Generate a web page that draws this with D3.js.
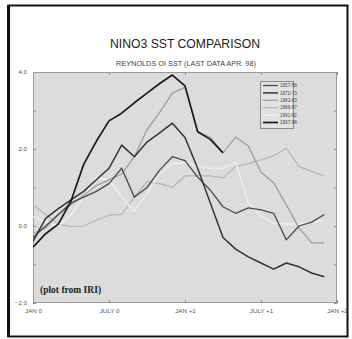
<!DOCTYPE html>
<html>
<head>
<meta charset="utf-8">
<script src="https://cdn.jsdelivr.net/npm/d3@7"></script>
<style>
  html, body { margin: 0; padding: 0; background: #fff; }
  svg { display: block; }
</style>
</head>
<body>
<svg id="chart" width="352" height="339"></svg>
<script>
// Monthly NINO3 SST anomalies (deg C), Jan of year 0 through Dec of year +1
const months = d3.range(24);
const years = ["1957-58", "1972-73", "1982-83", "1986-87", "1991-92", "1997-98"];

const s1957 = [-0.3, 0.0, 0.3, 0.6, 0.75, 0.9, 1.1, 1.5, 0.75, 1.0, 1.45, 1.8,
               1.7, 1.27, 0.93, 0.5, 0.33, 0.47, 0.42, 0.33, -0.36, 0.0, 0.1, 0.3];
const s1972 = [-0.4, 0.2, 0.45, 0.68, 0.9, 1.2, 1.5, 2.1, 1.8, 2.18, 2.42, 2.67,
               2.3, 1.5, 0.6, -0.3, -0.6, -0.8, -0.96, -1.12, -0.96, -1.06, -1.22, -1.32];
const s1982 = [-0.2, -0.05, 0.3, 0.55, 0.8, 1.05, 1.2, 1.35, 1.8, 2.5, 2.95, 3.45,
               3.6, 2.45, 2.3, 1.9, 2.31, 2.08, 1.4, 1.12, 0.55, -0.05, -0.44, -0.44];
const s1986 = [0.55, 0.3, 0.05, -0.02, 0.0, 0.15, 0.28, 0.3, 0.75, 1.15, 1.1, 1.0,
               1.3, 1.3, 1.3, 1.25, 1.55, 1.62, 1.72, 1.82, 2.02, 1.55, 1.42, 1.3];
const s1991 = [0.25, 0.1, 0.0, 0.3, 0.75, 1.25, 1.2, 0.75, 0.38, 0.85, 1.35, 1.62,
               1.65, 1.55, 1.5, 1.5, 1.65, 0.6, 0.25, 0.08, 0.05, 0.05, 0.1, 0.15];
const s1997 = [-0.55, -0.2, 0.05, 0.65, 1.6, 2.2, 2.73, 2.93, 3.2, 3.45, 3.7, 3.92,
               3.64, 2.45, 2.25, 1.9];

const seriesValues = [s1957, s1972, s1982, s1986, s1991, s1997];
const lineColors = ["#4a4a4a", "#333333", "#9e9e9e", "#b4b4b4", "#f2f2f2", "#1a1a1a"];
const lineWidths = [1.3, 1.5, 1.3, 1.2, 1.2, 1.7];

const xTickMonths = [0, 6, 12, 18, 24];
const xTickLabels = ["JAN 0", "JULY 0", "JAN +1", "JULY +1", "JAN +2"];
const yTickValues = [-2, -1, 0, 1, 2, 3, 4];
const yLabelValues = [-2, 0, 2, 4];

const svg = d3.select("#chart");

// outer frame
svg.append("rect").attr("x", 8.5).attr("y", 5.5).attr("width", 339).attr("height", 331)
  .attr("fill", "#fff").attr("stroke", "#111").attr("stroke-width", 2);
svg.append("line").attr("x1", 8.5).attr("x2", 8.5).attr("y1", 5).attr("y2", 337)
  .attr("stroke", "#111").attr("stroke-width", 3);

const plot = { left: 33, right: 337, top: 72, bottom: 303 };
const x = d3.scaleLinear().domain([0, 24]).range([plot.left, plot.right]);
const y = d3.scaleLinear().domain([-2, 4]).range([plot.bottom, plot.top]);

// titles
svg.append("text").attr("x", 185).attr("y", 48).attr("text-anchor", "middle")
  .attr("font-family", "Liberation Sans, Arial, sans-serif").attr("font-size", 12.2)
  .attr("fill", "#222").text("NINO3 SST COMPARISON");
svg.append("text").attr("x", 186).attr("y", 66).attr("text-anchor", "middle")
  .attr("font-family", "Liberation Sans, Arial, sans-serif").attr("font-size", 7.3)
  .attr("fill", "#444").text("REYNOLDS OI SST (LAST DATA APR. 98)");

// plot background
svg.append("rect").attr("x", plot.left).attr("y", plot.top)
  .attr("width", plot.right - plot.left).attr("height", plot.bottom - plot.top)
  .attr("fill", "#dcdcdc");

svg.append("clipPath").attr("id", "pclip").append("rect")
  .attr("x", plot.left).attr("y", plot.top)
  .attr("width", plot.right - plot.left).attr("height", plot.bottom - plot.top);

// axes with inward ticks on all sides
const tickColor = "#8a8a8a";
function styleAxis(g) {
  g.select(".domain").remove();
  g.selectAll(".tick line").attr("stroke", tickColor);
  g.selectAll(".tick text").attr("fill", "#555")
    .attr("font-family", "Liberation Sans, Arial, sans-serif").attr("font-size", 6.2);
}
const fmt = d3.format(".1f");

svg.append("g").attr("transform", `translate(${plot.left},0)`)
  .call(d3.axisLeft(y).tickValues(yTickValues).tickSizeInner(-3).tickSizeOuter(0)
    .tickPadding(6).tickFormat(d => yLabelValues.includes(d) ? fmt(d) : ""))
  .call(styleAxis);
svg.append("g").attr("transform", `translate(${plot.right},0)`)
  .call(d3.axisRight(y).tickValues(yTickValues).tickSizeInner(-3).tickSizeOuter(0)
    .tickFormat(""))
  .call(styleAxis);
svg.append("g").attr("transform", `translate(0,${plot.bottom})`)
  .call(d3.axisBottom(x).tickValues(xTickMonths).tickSizeInner(-3).tickSizeOuter(0)
    .tickPadding(6).tickFormat((d, i) => xTickLabels[i]))
  .call(styleAxis);
svg.append("g").attr("transform", `translate(0,${plot.top})`)
  .call(d3.axisTop(x).tickValues(xTickMonths).tickSizeInner(-3).tickSizeOuter(0)
    .tickFormat(""))
  .call(styleAxis);

// plot border
svg.append("rect").attr("x", plot.left + 0.5).attr("y", plot.top + 0.5)
  .attr("width", plot.right - plot.left - 1).attr("height", plot.bottom - plot.top - 1)
  .attr("fill", "none").attr("stroke", "#9a9a9a").attr("stroke-width", 1);

// series lines
const line = d3.line().x((d, i) => x(months[i])).y(d => y(d));
const drawOrder = [3, 4, 2, 0, 1, 5];
const lines = svg.append("g").attr("clip-path", "url(#pclip)");
drawOrder.forEach(k => {
  lines.append("path").datum(seriesValues[k]).attr("d", line)
    .attr("fill", "none").attr("stroke", lineColors[k])
    .attr("stroke-width", lineWidths[k]).attr("stroke-linejoin", "round");
});

// legend
const lg = svg.append("g");
lg.append("rect").attr("x", 260.5).attr("y", 81.5).attr("width", 33).attr("height", 47)
  .attr("fill", "#e2e2e2").attr("stroke", "#8a8a8a").attr("stroke-width", 1);
years.forEach((yr, i) => {
  const ly = 85.5 + i * 7.4;
  lg.append("line").attr("x1", 263).attr("x2", 278).attr("y1", ly).attr("y2", ly)
    .attr("stroke", lineColors[i]).attr("stroke-width", lineWidths[i]);
  lg.append("text").attr("x", 280).attr("y", ly + 1.7)
    .attr("font-family", "Liberation Sans, Arial, sans-serif").attr("font-size", 4.6)
    .attr("fill", "#444").text(yr);
});

// source note
svg.append("text").attr("x", 40).attr("y", 293)
  .attr("font-family", "Liberation Serif, Times New Roman, serif")
  .attr("font-weight", "bold").attr("font-size", 9.5).attr("fill", "#222")
  .text("(plot from IRI)");
</script>
</body>
</html>
